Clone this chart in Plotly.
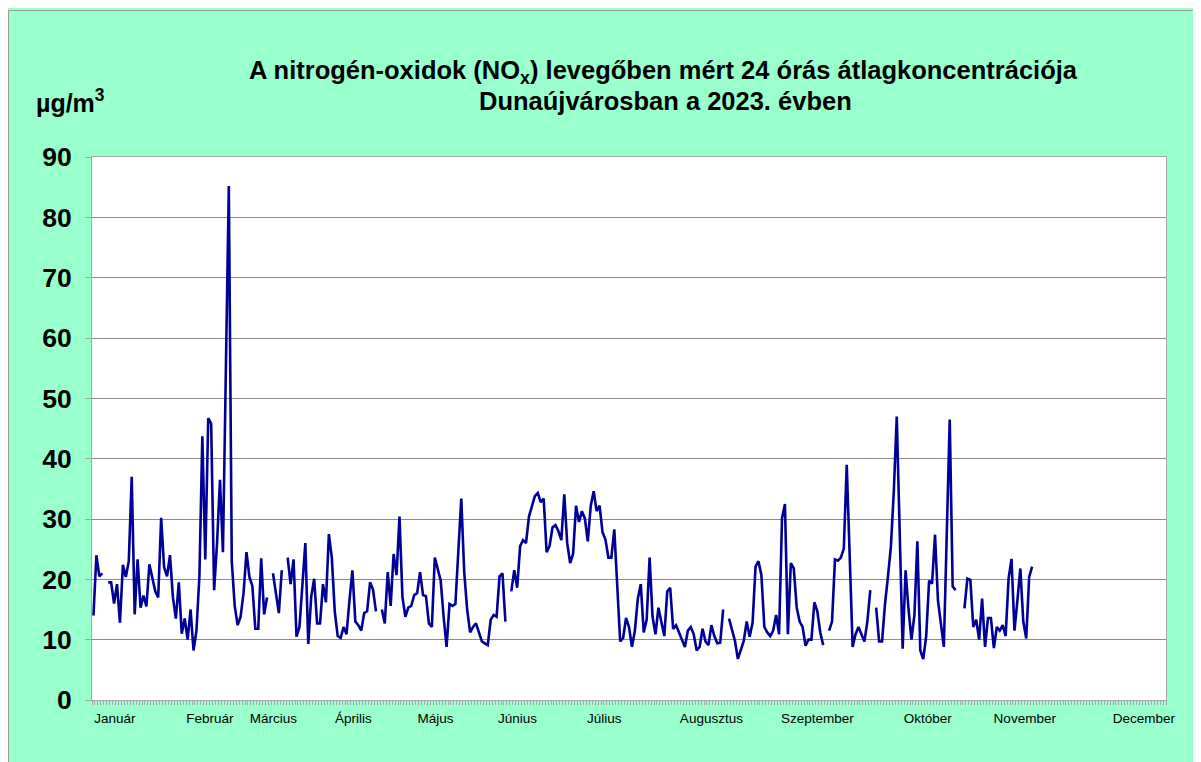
import plotly.graph_objects as go

# ---- data (day index of 2023, 0 = Jan 1; None = missing measurement) ----
days = [0, 1, 2, 3, 4, 5, 6, 7, 8, 9, 10, 11, 12, 13, 14, 15, 16, 17, 18, 19,
        20, 21, 22, 23, 24, 25, 26, 27, 28, 29, 30, 31, 32, 33, 34, 35, 36, 37, 38, 39,
        40, 41, 42, 43, 44, 46, 47, 48, 49, 50, 51, 52, 53, 54, 55, 56, 57, 58, 59, 60,
        61, 62, 63, 64, 65, 66, 67, 68, 69, 70, 72, 73, 74, 75, 76, 77, 78, 79, 80, 81,
        82, 83, 84, 85, 86, 87, 88, 89, 90, 91, 92, 93, 94, 95, 96, 97, 98, 99, 100, 101,
        102, 103, 104, 105, 106, 107, 108, 109, 110, 111, 112, 113, 114, 115, 116, 117, 118, 119, 120, 121,
        122, 123, 125, 126, 127, 128, 129, 130, 131, 132, 133, 134, 135, 136, 137, 138, 139, 140, 141, 142,
        143, 144, 145, 146, 147, 148, 149, 150, 151, 152, 153, 154, 155, 156, 157, 158, 159, 160, 161, 162,
        163, 164, 165, 166, 167, 168, 169, 170, 171, 172, 173, 174, 175, 176, 177, 179, 180, 181, 182, 183,
        184, 185, 186, 187, 188, 189, 190, 191, 192, 193, 194, 195, 196, 197, 198, 199, 201, 202, 203, 204,
        205, 206, 207, 208, 209, 210, 211, 212, 213, 214, 215, 216, 217, 218, 219, 220, 221, 222, 223, 224,
        225, 226, 227, 228, 229, 230, 231, 232, 233, 234, 235, 236, 237, 238, 239, 240, 241, 242, 243, 244,
        245, 246, 247, 248, 249, 250, 251, 252, 253, 254, 255, 256, 258, 259, 260, 261, 262, 263, 264, 265,
        266, 267, 268, 269, 270, 271, 272, 273, 275, 276, 277, 278, 279, 280, 281, 282, 283, 284, 285, 286,
        287, 288, 289, 291, 292, 293, 294, 296, 297, 298, 299, 300, 301, 302, 303, 304, 305, 306, 307, 308,
        309, 310, 311, 312, 313, 314, 315, 316, 317, 318, 319]

nox = [14, 24, 20.5, 21, None, 19.5, 19.5, 16, 19.2, 12.8, 22.4, 20.4, 23, 37, 14.2, 23.3, 15.3, 17.3, 15.5, 22.5,
       20, 18, 17, 30.2, 22, 20.5, 24, 17, 13.5, 19.5, 11, 13.5, 10, 15, 8.2, 11.5, 20.5, 43.7, 23.3, 46.7,
       45.8, 18.2, 26, 36.5, 24.5, 85.2, 23, 15.6, 12.4, 13.8, 17.7, 24.5, 20.4, 18.9, 11.8, 11.8, 23.5, 14.2, 17, None,
       21, 17.7, 14.4, 21.5, None, 23.6, 19.2, 23.3, 10.5, 12.1, 26, 9.3, 17.1, 20.1, 12.7, 12.7, 19.2, 16.2, 27.5, 23.6,
       14.7, 10.6, 10.3, 12.1, 10.9, 16.5, 21.5, 13, 12.4, 11.5, 14.4, 14.7, 19.5, 18.3, 14.7, None, 15, 12.7, 21.2, 15.6,
       24.2, 20.7, 30.4, 17.1, 13.8, 15.3, 15.6, 17.4, 17.7, 21.2, 17.4, 17.2, 12.7, 12.1, 23.6, 21.5, 19.8, 13.8, 8.8, 15.9,
       15.6, 15.9, 33.4, 21.2, 15, 11.2, 12.1, 12.7, 11.2, 9.7, 9.4, 9.1, 13.3, 14.1, 13.8, 20.5, 21, 13, None, 18,
       21.5, 18.6, 25.5, 26.5, 26, 30.4, 32.2, 33.8, 34.3, 32.8, 33.4, 24.5, 25.5, 28.6, 29, 28, 26.5, 34.1, 26, 22.7,
       24.2, 32.2, 29.5, 31.3, 30.1, 26.3, 32.2, 34.6, 31.3, 32.2, 27.8, 26.6, 23.6, 23.6, 28.3, 9.7, 10.3, 13.6, 12.1, 8.8,
       11.5, 16.8, 19.2, 11.2, 13.3, 23.6, 13.8, 10.9, 15.3, 13, 10.6, 18, 18.6, 11.8, 12.4, 11.2, 8.8, 11.5, 12.1, 10.9,
       8.2, 8.8, 11.8, 9.7, 9.1, 12.4, 10.6, 9.4, 9.5, 15, None, 13.5, 11.5, 9.8, 6.8, 8.5, 9.8, 13, 10.5, 12.8,
       22.1, 23, 20.7, 12.1, 11.2, 10.6, 11.5, 14.1, 10.9, 30.1, 32.5, 10.9, 22.7, 21.8, 15.3, 13, 12.1, 9, 10, 10,
       16.2, 14.7, 11.2, 9.1, None, 11.5, 13, 23.3, 23.1, 23.6, 25.1, 39, 8.8, 10.9, 12.1, 10.9, 9.7, 13, 18.2, None,
       15.3, 9.7, 9.7, 15.9, 20.4, 25.4, 34.6, 47, 8.5, 21.5, 15, 10, 14.1, 26.3, 8.2, 6.8, 10.6, 19.8, 19.3, 27.4,
       16.5, 13, 8.8, 46.5, 18.8, 18.2, None, 15.2, 20.1, 19.9, 12.1, 13.3, 10, 16.8, 8.8, 13.6, 13.6, 8.6, 12.1, 11.5,
       12.4, 10.6, 20.1, 23.4, 11.5, 16.5, 21.8, 13, 10.2, 20.4, 22.1]

months = ["Január", "Február", "Március", "Április", "Május", "Június", "Július",
          "Augusztus", "Szeptember", "Október", "November", "December"]
month_label_pos = [7.3, 39.6, 61.1, 88.3, 116.2, 144.1, 173.6, 210.0, 246.0, 283.5, 316.5, 357.0]

y_ticks = [0, 10, 20, 30, 40, 50, 60, 70, 80, 90]

title_line1 = "A nitrogén-oxidok (NO<sub>x</sub>) levegőben mért 24 órás átlagkoncentrációja"
title_line2 = "Dunaújvárosban a 2023. évben"
unit_text = "µg/m<sup>3</sup>"

# ---- figure ----
MINT = "#99FFCC"
FONT = "Liberation Sans, Arial, sans-serif"

# page body has an 8px margin; figure coordinates = screen - 8
OFF = 8
W, H = 1201, 762
L, T = 92 - OFF, 157 - OFF
R = W - (1166 - OFF)
B = H - (700 - OFF)
pw, ph = W - L - R, H - T - B


def px_x(sx):
    return (sx - OFF - L) / pw


def px_y(sy):
    return (H - B - (sy - OFF)) / ph


fig = go.Figure()
fig.add_trace(go.Scatter(
    x=days, y=nox, mode="lines",
    line=dict(color="#000099", width=2.6),
    connectgaps=False, showlegend=False, hoverinfo="x+y",
))

fig.update_layout(
    width=W, height=H,
    margin=dict(l=L, r=R, t=T, b=B, pad=0),
    paper_bgcolor=MINT,
    plot_bgcolor="white",
    font=dict(family=FONT, color="black"),
    xaxis=dict(
        range=[-0.5, 364.5], tickmode="array",
        tickvals=month_label_pos, ticktext=months,
        ticks="outside", ticklen=6, tickcolor="rgba(0,0,0,0)",
        tickfont=dict(size=13.5, family=FONT, color="black"),
        showgrid=False, zeroline=False,
        showline=True, linecolor="#A6A6A6", linewidth=1, mirror=True,
        minor=dict(tickmode="linear", tick0=-0.5, dtick=1, ticks="outside",
                   ticklen=4, tickcolor="#A6A6A6", tickwidth=1, showgrid=False),
        fixedrange=True,
    ),
    yaxis=dict(
        range=[0, 90], tickmode="array", tickvals=y_ticks,
        ticks="outside", ticklen=6, tickcolor="#A6A6A6",
        tickfont=dict(size=26.5, family=FONT, color="black", weight="bold"),
        ticklabelstandoff=8,
        showgrid=True, gridcolor="#8C8C8C", gridwidth=1,
        zeroline=False,
        showline=True, linecolor="#A6A6A6", linewidth=1, mirror=True,
        fixedrange=True,
    ),
    shapes=[
        # thin border of the mint chart area
        dict(type="rect", xref="paper", yref="paper", layer="below",
             x0=px_x(8.5), x1=px_x(1300), y0=px_y(900), y1=px_y(10.5),
             fillcolor="rgba(0,0,0,0)", line=dict(color="#9A9A9A", width=1)),
    ],
    annotations=[
        dict(text=title_line1, xref="paper", yref="paper",
             x=px_x(663), y=px_y(72), xanchor="center", yanchor="middle",
             showarrow=False,
             font=dict(size=25.5, family=FONT, color="black", weight="bold")),
        dict(text=title_line2, xref="paper", yref="paper",
             x=px_x(665), y=px_y(101), xanchor="center", yanchor="middle",
             showarrow=False,
             font=dict(size=25.5, family=FONT, color="black", weight="bold")),
        dict(text=unit_text, xref="paper", yref="paper",
             x=px_x(70), y=px_y(101), xanchor="center", yanchor="middle",
             showarrow=False,
             font=dict(size=25, family=FONT, color="black", weight="bold")),
    ],
)

fig.write_html("out.html")
